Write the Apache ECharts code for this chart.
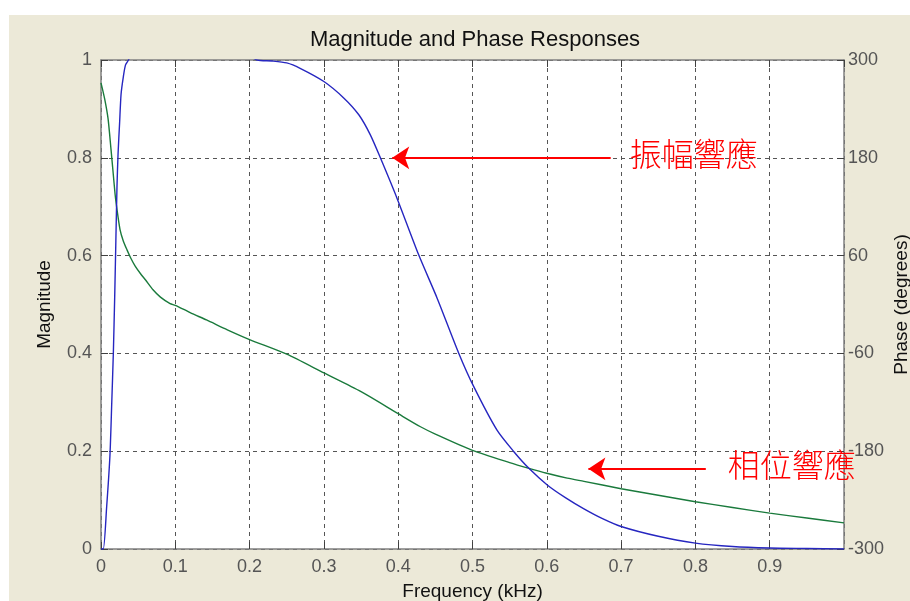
<!DOCTYPE html>
<html>
<head>
<meta charset="utf-8">
<script src="https://cdn.jsdelivr.net/npm/echarts@6/dist/echarts.min.js"></script>
<style>
  html, body { margin: 0; padding: 0; background: #fff; }
  #bg { position: absolute; left: 9px; top: 15px; width: 901px; height: 586px; background: #ece9d8; }
  #chart { position: absolute; left: 0; top: 0; width: 910px; height: 601px; }
</style>
</head>
<body>
<div id="bg"></div>
<div id="chart"></div>
<script>
// Magnitude response (left axis), values above 1 are clipped by the axis
const magFreq = [0, 0.003, 0.0076, 0.012, 0.0145, 0.0166, 0.0185, 0.020, 0.0215, 0.023, 0.025,
  0.027, 0.030, 0.033, 0.037, 0.045, 0.06, 0.1, 0.15, 0.19, 0.21, 0.23, 0.25, 0.268, 0.3, 0.327,
  0.347, 0.3625, 0.376, 0.3985, 0.4277, 0.4524, 0.4816, 0.5017, 0.533, 0.5557, 0.5759, 0.6006,
  0.625, 0.65, 0.675, 0.7, 0.75, 0.8, 0.85, 0.9, 0.95, 1.0];
const magnitude = [0, 0, 0.086, 0.19, 0.3, 0.4, 0.52, 0.63, 0.74, 0.81, 0.87,
  0.93, 0.965, 0.99, 1.0, 1.03, 1.06, 1.08, 1.06, 1.02, 1.0, 0.998, 0.994, 0.983, 0.956, 0.922,
  0.888, 0.847, 0.8, 0.717, 0.601, 0.513, 0.4, 0.332, 0.243, 0.199, 0.165, 0.131,
  0.105, 0.082, 0.062, 0.046, 0.026, 0.012, 0.005, 0.002, 0.001, 0.0];

// Phase response in degrees (right axis)
const phaseFreq = [0, 0.005, 0.0095, 0.0135, 0.016, 0.019, 0.021, 0.0256, 0.03,
  0.035, 0.04, 0.046, 0.053, 0.06, 0.07, 0.08, 0.093, 0.1, 0.12, 0.142, 0.17, 0.2, 0.25, 0.3,
  0.35, 0.4, 0.43, 0.45, 0.5, 0.55, 0.576, 0.6, 0.6275, 0.65, 0.7, 0.75, 0.8, 0.85, 0.9, 0.95, 1.0];
const phase = [272, 252, 228, 190, 165, 135, 120, 92, 78,
  67, 57, 47, 38, 30, 18, 9, 1, -1, -10, -19, -31, -43, -61, -84,
  -107, -134, -150, -159, -179, -194, -201, -207, -213, -217, -226, -234, -242, -249, -256, -262, -268];

const freqTicks = [0, 0.1, 0.2, 0.3, 0.4, 0.5, 0.6, 0.7, 0.8, 0.9];

const font = 'Arial, "Liberation Sans", sans-serif';
const gridLine = { show: true, lineStyle: { color: '#555', type: [4, 4], width: 1 } };
const boxLine = { show: true, onZero: false, lineStyle: { color: '#808080', width: 1.5 } };
const inTick = { show: true, inside: true, length: 7, lineStyle: { color: '#404040', width: 1 } };
const tickLabel = { color: '#555', fontFamily: font, fontSize: 18 };
const axisName = { color: '#111', fontFamily: font, fontSize: 19 };

const chart = echarts.init(document.getElementById('chart'));

const option = {
  animation: false,
  title: {
    text: 'Magnitude and Phase Responses',
    left: 470,
    textAlign: 'center',
    top: 24,
    textStyle: { color: '#111', fontFamily: font, fontSize: 22, fontWeight: 'normal' }
  },
  grid: {
    left: 101, top: 60, right: 66, bottom: 52,
    outerBoundsMode: 'none', containLabel: false,
    show: true, backgroundColor: '#fff', borderWidth: 0
  },
  xAxis: [
    {
      type: 'value', min: 0, max: 1, interval: 0.1, position: 'bottom',
      name: 'Frequency (kHz)', nameLocation: 'middle', nameGap: 33, nameMoveOverlap: false,
      nameTextStyle: axisName,
      axisLine: boxLine, axisTick: inTick, splitLine: gridLine,
      axisLabel: Object.assign({}, tickLabel, {
        margin: 9, showMaxLabel: false,
        formatter: v => (freqTicks.includes(Math.round(v * 10) / 10) ? String(Math.round(v * 10) / 10) : '')
      })
    },
    {
      type: 'value', min: 0, max: 1, interval: 0.1, position: 'top',
      axisLine: boxLine, axisTick: inTick, splitLine: { show: false }, axisLabel: { show: false }
    }
  ],
  yAxis: [
    {
      type: 'value', min: 0, max: 1, interval: 0.2, position: 'left',
      name: 'Magnitude', nameLocation: 'middle', nameGap: 47, nameMoveOverlap: false,
      nameTextStyle: axisName,
      axisLine: boxLine, axisTick: inTick, splitLine: gridLine,
      axisLabel: Object.assign({}, tickLabel, { margin: 9 })
    },
    {
      type: 'value', min: -300, max: 300, interval: 120, position: 'right',
      name: 'Phase (degrees)', nameLocation: 'middle', nameGap: 48, nameRotate: 90, nameMoveOverlap: false,
      nameTextStyle: axisName,
      axisLine: boxLine, axisTick: inTick, splitLine: { show: false },
      axisLabel: Object.assign({}, tickLabel, { margin: 4 })
    }
  ],
  series: [
    {
      name: 'Magnitude', type: 'line', xAxisIndex: 0, yAxisIndex: 0,
      data: magFreq.map((f, i) => [f, magnitude[i]]),
      showSymbol: false, smooth: 0.25, clip: true,
      lineStyle: { color: '#2626c0', width: 1.4 },
      markLine: {
        silent: true,
        symbol: ['none', 'arrow'],
        symbolSize: 17,
        label: { show: false },
        lineStyle: { color: '#ff0000', width: 2, type: 'solid' },
        data: [
          [{ coord: [0.686, 0.8] }, { coord: [0.392, 0.8] }],
          [{ coord: [0.814, 0.164] }, { coord: [0.656, 0.164] }]
        ]
      },
      z: 3
    },
    {
      name: 'Phase', type: 'line', xAxisIndex: 0, yAxisIndex: 1,
      data: phaseFreq.map((f, i) => [f, phase[i]]),
      showSymbol: false, smooth: 0.25, clip: true,
      lineStyle: { color: '#1a7a3c', width: 1.4 },
      z: 2
    }
  ]
};

chart.setOption(option);

// red annotation labels next to the arrow tails
const p1 = chart.convertToPixel({ xAxisIndex: 0, yAxisIndex: 0 }, [0.686, 0.8]);
const p2 = chart.convertToPixel({ xAxisIndex: 0, yAxisIndex: 0 }, [0.814, 0.164]);
const cjk = '"Noto Sans CJK TC", "Noto Sans CJK SC", sans-serif';
chart.setOption({
  graphic: [
    { type: 'text', left: p1[0] + 19, top: p1[1] - 20, z: 100,
      style: { text: '振幅響應', fill: '#ff0000', font: '300 32px ' + cjk } },
    { type: 'text', left: p2[0] + 22, top: p2[1] - 20, z: 100,
      style: { text: '相位響應', fill: '#ff0000', font: '300 32px ' + cjk } }
  ]
});
</script>
</body>
</html>
